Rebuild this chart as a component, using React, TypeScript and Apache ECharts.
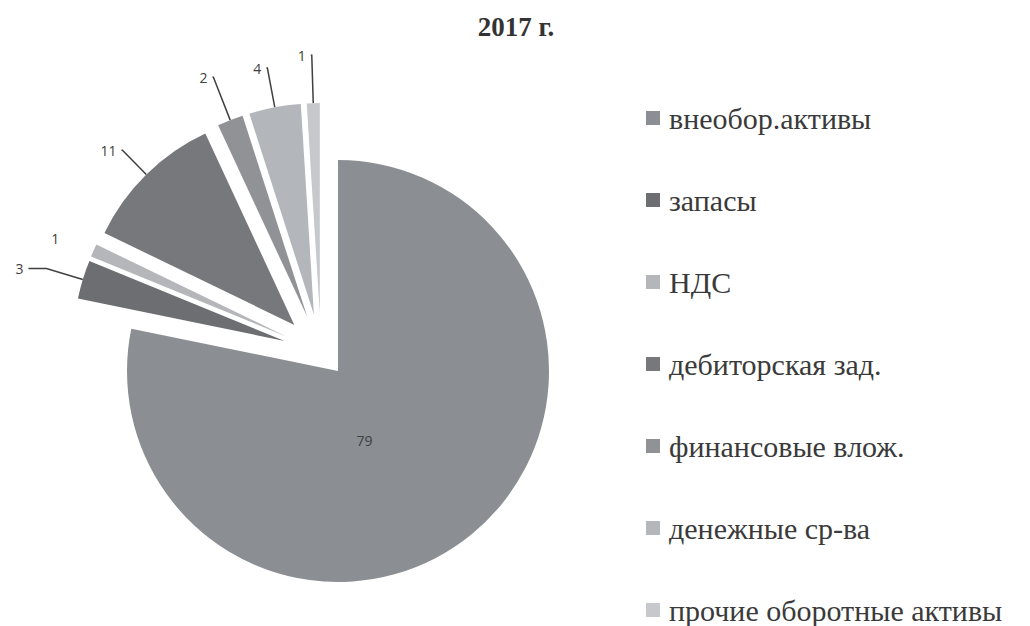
import React, { useEffect, useRef } from "react";
import * as echarts from "echarts";

const categories = [
  "внеобор.активы",
  "запасы",
  "НДС",
  "дебиторская зад.",
  "финансовые влож.",
  "денежные ср-ва",
  "прочие оборотные активы",
];
const values = [79, 3, 1, 11, 2, 4, 1];
const colors = ["#8b8e93", "#6c6e72", "#b4b6b9", "#76787c", "#909296", "#b3b6ba", "#c6c8cb"];
const titleText = "2017 г.";

// leader line styling for the exploded slices (first radial part, then horizontal part)
const leaderLen1 = [0, 38, 30, 34, 46, 40, 48];
const leaderLen2 = [0, 18, 2, 1, 1, 1, 1];
const leaderShown = [false, true, false, true, true, true, true];

const SERIF = "'Liberation Serif', 'DejaVu Serif', serif";
const LABEL_FONT = "'Open Sans', sans-serif";

export default function App() {
  const ref = useRef<HTMLDivElement>(null);
  useEffect(() => {
    document.body.style.margin = "0";
    const chart = echarts.init(ref.current!, null, { renderer: "svg" });

    // whole pie, only the main (non-exploded) slice visible
    const baseData = categories.map((name, i) => ({
      name,
      value: values[i],
      itemStyle: { color: i === 0 ? colors[i] : "rgba(0,0,0,0)" },
      label:
        i === 0
          ? { show: true, position: "inside" as const, offset: [-42, -15] }
          : { show: false },
      labelLine: { show: false },
    }));

    // same pie, exploded slices visible
    const explodedData = categories.map((name, i) => ({
      name,
      value: values[i],
      selected: i > 0,
      itemStyle: { color: i === 0 ? "rgba(0,0,0,0)" : colors[i] },
      label: { show: i > 0, position: "outside" as const },
      labelLine: {
        show: leaderShown[i],
        length: leaderLen1[i],
        length2: leaderLen2[i],
      },
    }));

    const common = {
      type: "pie" as const,
      radius: 211,
      startAngle: 90,
      clockwise: true,
      avoidLabelOverlap: false,
      emphasis: { disabled: true },
      silent: true,
      label: {
        formatter: "{c}",
        fontFamily: LABEL_FONT,
        fontSize: 14,
        color: "#404040",
      },
      labelLine: {
        lineStyle: { color: "#404040", width: 1.5 },
      },
    };

    chart.setOption({
      animation: false,
      backgroundColor: "#ffffff",
      textStyle: { fontFamily: SERIF },
      title: {
        text: titleText,
        left: 511,
        top: 8,
        textAlign: "center",
        textStyle: {
          fontFamily: SERIF,
          fontWeight: "bold",
          fontSize: 27,
          color: "#333333",
        },
      },
      legend: {
        orient: "vertical",
        left: 646,
        top: 103,
        height: 800,
        padding: 0,
        itemWidth: 14,
        itemHeight: 14,
        itemGap: 52,
        icon: "rect",
        selectedMode: false,
        data: categories.map((name, i) => ({
          name,
          itemStyle: { color: colors[i] },
        })),
        textStyle: {
          fontFamily: SERIF,
          fontSize: 30,
          color: "#3a3a3a",
          padding: [0, 0, 0, 4],
        },
      },
      series: [
        {
          ...common,
          name: "base",
          center: [338, 371],
          data: baseData,
        },
        {
          ...common,
          name: "exploded",
          center: [321, 352],
          selectedMode: "multiple",
          selectedOffset: 38,
          data: explodedData,
        },
      ],
    });
    return () => chart.dispose();
  }, []);
  return <div ref={ref} style={{ width: 1030, height: 626 }} />;
}
